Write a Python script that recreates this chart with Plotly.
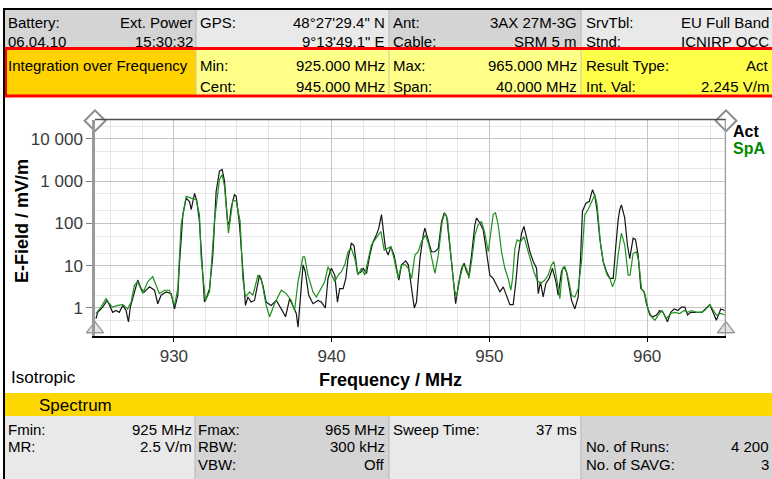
import plotly.graph_objects as go

W, H = 772, 479

# ---------------- data ----------------
act_freq = [925.06, 925.17, 925.49, 925.76, 925.91, 926.12, 926.33, 926.54, 926.76, 926.97,
            927.12, 927.24, 927.71, 927.92, 928.13, 928.45, 928.77, 928.98, 929.19, 929.51,
            929.83, 930.04, 930.25, 930.35, 930.57, 930.78, 930.99, 931.10, 931.31, 931.45,
            931.62, 931.73, 931.94, 932.04, 932.26, 932.47, 932.68, 932.89, 933.06, 933.21,
            933.42, 933.53, 933.63, 933.84, 933.95, 934.16, 934.37, 934.54, 934.69, 934.90,
            935.11, 935.43, 935.64, 935.85, 936.17, 936.49, 936.81, 937.08, 937.34, 937.55,
            937.76, 937.87, 938.05, 938.19, 938.33, 938.55, 938.82, 939.14, 939.35, 939.60,
            939.77, 939.98, 940.20, 940.37, 940.51, 940.73, 940.90, 941.04, 941.25, 941.42,
            941.64, 941.85, 942.00, 942.21, 942.42, 942.63, 942.84, 942.99, 943.16, 943.27,
            943.41, 943.58, 943.75, 943.96, 944.11, 944.26, 944.43, 944.70, 944.86, 945.07,
            945.24, 945.38, 945.60, 945.81, 945.91, 946.12, 946.33, 946.55, 946.76, 946.97,
            947.14, 947.29, 947.50, 947.71, 947.86, 948.03, 948.24, 948.40, 948.55, 948.70,
            948.87, 949.08, 949.19, 949.40, 949.61, 949.82, 950.03, 950.24, 950.45, 950.67,
            950.88, 951.09, 951.30, 951.51, 951.68, 951.83, 952.04, 952.19, 952.36, 952.57,
            952.78, 952.99, 953.10, 953.24, 953.41, 953.58, 953.79, 954.00, 954.22, 954.36,
            954.57, 954.72, 954.89, 955.06, 955.21, 955.42, 955.63, 955.78, 955.90, 956.12,
            956.33, 956.54, 956.69, 956.83, 957.00, 957.21, 957.43, 957.64, 957.85, 958.00,
            958.16, 958.27, 958.37, 958.58, 958.75, 958.90, 959.11, 959.26, 959.43, 959.60,
            959.81, 959.96, 960.17, 960.38, 960.59, 960.80, 961.01, 961.29, 961.50, 961.71,
            961.96, 962.17, 962.39, 962.56, 962.77, 963.02, 963.27, 963.48, 963.70, 963.97,
            964.18, 964.39, 964.67, 964.92]
act_mvm = [0.56, 0.79, 1.05, 1.51, 1.2, 0.79, 0.87, 0.79, 1.15, 0.87,
           0.47, 1.05, 4.57, 2.88, 2.4, 3.16, 2.63, 1.26, 2.0, 2.4,
           2.19, 0.95, 2.0, 10.5, 162, 398, 331, 214, 513, 350,
           112, 20, 1.38, 1.66, 2.88, 17.8, 575, 1738, 1905, 1000,
           93, 112, 234, 479, 437, 93, 6.0, 1.15, 1.82, 1.38,
           1.51, 6.0, 3.47, 1.38, 1.15, 1.51, 0.95, 0.62, 1.66, 1.15,
           0.74, 0.35, 2.5, 10.5, 7.2, 2.0, 1.26, 1.51, 1.38, 1.0,
           5.0, 8.7, 6.0, 1.38, 2.88, 2.88, 5.0, 14.8, 33.9, 30,
           6.6, 7.0, 8.7, 6.6, 17.8, 37.2, 53.7, 77.6, 162, 64.6,
           25.7, 17.8, 28.2, 17.8, 8.7, 4.57, 10.5, 13, 10.5, 2.88,
           1.0, 1.38, 14.8, 53.7, 77.6, 40.7, 21.4, 21.4, 25.7, 112,
           178, 148, 30.9, 5.0, 1.26, 3.47, 8.7, 11.5, 7.2, 6.0,
           17.8, 93, 135, 102, 70.8, 17.8, 6.0, 5.0, 3.47, 2.4,
           3.16, 2.0, 1.2, 1.2, 4.17, 17.8, 58.9, 85.1, 44.7, 21.4,
           12.6, 8.7, 2.19, 4.17, 1.82, 3.8, 5.0, 8.7, 4.17, 2.0,
           7.2, 9.5, 7.2, 3.47, 1.51, 0.95, 1.82, 14.8, 195, 302,
           331, 631, 437, 195, 44.7, 12.6, 7.2, 5.0, 5.0, 25,
           120, 214, 275, 135, 30.9, 14.8, 44.7, 42, 17.8, 2.88,
           2.4, 1.26, 0.68, 0.62, 0.68, 0.87, 0.79, 0.47, 0.79, 0.95,
           0.87, 1.05, 1.05, 0.68, 0.79, 0.79, 0.79, 0.79, 0.95, 1.2,
           0.79, 0.51, 0.95, 0.87]

spa_freq = [925.06, 925.38, 925.70, 925.91, 926.12, 926.44, 926.76, 927.07, 927.29, 927.50,
            927.71, 928.03, 928.34, 928.66, 928.87, 929.08, 929.40, 929.72, 930.04, 930.25,
            930.46, 930.78, 931.10, 931.41, 931.62, 931.73, 932.00, 932.26, 932.57, 932.89,
            933.06, 933.21, 933.46, 933.74, 933.95, 934.20, 934.37, 934.54, 934.80, 935.01,
            935.33, 935.54, 935.85, 936.07, 936.38, 936.81, 937.12, 937.44, 937.65, 937.87,
            938.18, 938.29, 938.50, 938.82, 939.03, 939.35, 939.56, 939.77, 940.03, 940.20,
            940.41, 940.62, 940.83, 941.04, 941.25, 941.47, 941.68, 941.89, 942.10, 942.31,
            942.52, 942.74, 942.95, 943.12, 943.33, 943.54, 943.75, 943.96, 944.22, 944.43,
            944.68, 944.86, 945.07, 945.28, 945.49, 945.70, 945.95, 946.17, 946.38, 946.55,
            946.76, 947.01, 947.18, 947.35, 947.56, 947.77, 947.92, 948.13, 948.34, 948.55,
            948.70, 948.87, 949.08, 949.29, 949.50, 949.71, 949.93, 950.09, 950.24, 950.39,
            950.56, 950.77, 950.98, 951.19, 951.36, 951.47, 951.62, 951.76, 951.98, 952.19,
            952.40, 952.61, 952.82, 953.03, 953.24, 953.52, 953.73, 953.94, 954.09, 954.26,
            954.47, 954.64, 954.79, 955.00, 955.21, 955.42, 955.63, 955.84, 956.05, 956.26,
            956.48, 956.69, 956.83, 957.05, 957.26, 957.47, 957.64, 957.81, 958.00, 958.16,
            958.37, 958.58, 958.80, 958.92, 959.11, 959.32, 959.47, 959.64, 959.85, 960.06,
            960.27, 960.49, 960.70, 960.95, 961.22, 961.50, 961.75, 962.07, 962.34, 962.56,
            962.81, 963.13, 963.40, 963.65, 963.97, 964.18, 964.39, 964.67, 964.92]
spa_mvm = [0.74, 1.05, 1.66, 1.26, 1.05, 1.15, 1.2, 0.95, 1.38, 3.47,
           4.17, 2.19, 4.17, 5.5, 3.47, 2.19, 2.63, 2.63, 1.15, 2.88,
           93, 437, 398, 363, 162, 14.8, 1.51, 2.4, 112, 1096,
           1445, 759, 58.9, 363, 331, 112, 5.0, 1.82, 2.4, 2.0,
           6.0, 5.0, 1.15, 0.62, 1.26, 2.63, 2.19, 1.51, 0.87, 4.17,
           16.2, 16.2, 6.0, 2.4, 1.82, 2.88, 4.17, 9.5, 6.0, 4.17,
           6.0, 7.2, 10.5, 21.4, 25.7, 14.8, 6.0, 8.7, 6.0, 12.6,
           30.9, 40.7, 53.7, 64.6, 23.4, 25.7, 28.2, 14.8, 5.0, 10.5,
           10.5, 8.7, 5.0, 17.8, 21.4, 37.2, 53.7, 30.9, 12.6, 6.6,
           17.8, 112, 178, 123, 17.8, 2.88, 1.82, 5.0, 10.5, 8.7,
           5.0, 12.6, 53.7, 93, 112, 58.9, 21.4, 64.6, 162, 178,
           93, 21.4, 8.7, 5.0, 2.63, 5.0, 25.7, 40.7, 37.2, 49,
           25.7, 12.6, 7.2, 4.57, 3.8, 4.57, 6.0, 10.5, 12.6, 5.0,
           1.66, 8.7, 9.5, 5.0, 2.0, 1.82, 2.88, 12.6, 162, 214,
           331, 479, 275, 30.9, 10.5, 6.0, 5.0, 3.16, 5.0, 17.8,
           58.9, 30.9, 6.0, 6.0, 19.5, 21.4, 12.6, 2.88, 2.19, 0.95,
           0.62, 0.51, 0.68, 0.87, 0.56, 0.74, 0.79, 0.74, 0.87, 0.79,
           0.87, 0.79, 0.79, 0.87, 1.2, 0.87, 0.68, 0.74, 0.68]

f_min, f_max = 925, 965
x_ticks = [930, 940, 950, 960]
y_ticks = [1, 10, 100, 1000, 10000]
y_tick_text = ["1", "10", "100", "1 000", "10 000"]
y_minor = [0.2, 0.5, 2, 5, 20, 50, 200, 500, 2000, 5000, 20000]
y_log_range = [-0.663, 4.46]

header_row1 = [("Battery:", "Ext. Power"), ("GPS:", "48°27'29.4\" N"),
               ("Ant:", "3AX 27M-3G"), ("SrvTbl:", "EU Full Band")]
header_row2 = [("06.04.10", "15:30:32"), ("", "9°13'49.1\" E"),
               ("Cable:", "SRM 5 m"), ("Stnd:", "ICNIRP OCC")]
box_row1 = [("Integration over Frequency", ""), ("Min:", "925.000 MHz"),
            ("Max:", "965.000 MHz"), ("Result Type:", "Act")]
box_row2 = [("", ""), ("Cent:", "945.000 MHz"),
            ("Span:", "40.000 MHz"), ("Int. Val:", "2.245 V/m")]
bottom_rows = [
    [("Fmin:", "925 MHz"), ("Fmax:", "965 MHz"), ("Sweep Time:", "37 ms"), ("", "")],
    [("MR:", "2.5 V/m"), ("RBW:", "300 kHz"), ("", ""), ("No. of Runs:", "4 200")],
    [("", ""), ("VBW:", "Off"), ("", ""), ("No. of SAVG:", "3")],
]

FONT = "Liberation Sans, Arial, sans-serif"


def px(x):
    return x / W


def py(y):
    return 1 - y / H


shapes = []
annotations = []


def rect(x0, y0, x1, y1, fill, line=None, lw=0, layer="below"):
    shapes.append(dict(type="rect", xref="paper", yref="paper",
                       x0=px(x0), x1=px(x1), y0=py(y1), y1=py(y0),
                       fillcolor=fill, layer=layer,
                       line=dict(color=line or fill, width=lw)))


def hline(x0, x1, y, color, w):
    shapes.append(dict(type="line", xref="paper", yref="paper",
                       x0=px(x0), x1=px(x1), y0=py(y), y1=py(y),
                       line=dict(color=color, width=w), layer="above"))


def vline(x, y0, y1, color, w):
    shapes.append(dict(type="line", xref="paper", yref="paper",
                       x0=px(x), x1=px(x), y0=py(y0), y1=py(y1),
                       line=dict(color=color, width=w), layer="above"))


def txt(x, y, s, anchor="left", size=15, color="black", bold=False):
    if not s:
        return
    annotations.append(dict(xref="paper", yref="paper", x=px(x), y=py(y),
                            text=("<b>%s</b>" % s) if bold else s,
                            showarrow=False, xanchor=anchor, yanchor="middle",
                            font=dict(family=FONT, size=size, color=color),
                            borderpad=0))


cols_top = [(5, 196), (196, 389), (389, 581), (581, 772)]
left_x = [7, 199, 392, 585]
right_x = [194, 386, 578, 770]

# header cells
top_fills = ["#d4d4d4", "#e9e9e9", "#d4d4d4", "#e9e9e9"]
for (a, b), c in zip(cols_top, top_fills):
    rect(a, 10, b, 49, c)
for (a, b) in cols_top[1:]:
    vline(a, 10, 49, "#b4b4b4", 1)
for i in range(4):
    l1, r1 = header_row1[i]
    l2, r2 = header_row2[i]
    txt(left_x[i], 23, l1)
    txt(right_x[i], 23, r1, anchor="right")
    txt(left_x[i], 42, l2)
    txt(right_x[i], 42, r2, anchor="right")

# highlighted integration box
box_fills = ["#ffd200", "#ffff88", "#ffff88", "#ffff4a"]
for (a, b), c in zip(cols_top, box_fills):
    rect(a, 49, b, 96, c)
for (a, b) in cols_top[1:]:
    vline(a, 50, 95, "#c8c8a0", 1)
for i in range(4):
    l1, r1 = box_row1[i]
    l2, r2 = box_row2[i]
    txt(left_x[i], 65, l1)
    txt(right_x[i], 65, r1, anchor="right")
    txt(left_x[i], 86, l2)
    txt(right_x[i], 86, r2, anchor="right")
shapes.append(dict(type="rect", xref="paper", yref="paper",
                   x0=px(5.5), x1=px(780), y0=py(96), y1=py(48.5),
                   line=dict(color="#ff0000", width=3), fillcolor="rgba(0,0,0,0)",
                   layer="above"))

# window frame
hline(3, 772, 9, "black", 2)
vline(4, 9, 479, "black", 2)

# spectrum bar
rect(5, 393, 772, 416, "#ffd700")
txt(38, 405, "Spectrum", size=17)

# bottom table
cols_bot = [(5, 195), (195, 389), (389, 581), (581, 772)]
bot_left = [7, 197, 392, 585]
bot_right = [193, 386, 578, 770]
bot_fills = ["#e9e9e9", "#d4d4d4", "#e9e9e9", "#d4d4d4"]
for (a, b), c in zip(cols_bot, bot_fills):
    rect(a, 416, b, 479, c)
for (a, b) in cols_bot[1:]:
    vline(a, 416, 479, "#b4b4b4", 1)
row_y = [429, 446, 464]
for r, row in enumerate(bottom_rows):
    for i, (l, v) in enumerate(row):
        txt(bot_left[i], row_y[r], l)
        txt(bot_right[i], row_y[r], v, anchor="right")

# plot annotations
txt(10, 377, "Isotropic", size=17)
txt(390, 380, "Frequency / MHz", anchor="center", size=18, bold=True)
annotations.append(dict(xref="paper", yref="paper", x=px(22), y=py(221),
                        text="<b>E-Field / mV/m</b>", textangle=-90,
                        showarrow=False, xanchor="center", yanchor="middle",
                        font=dict(family=FONT, size=18, color="black")))
txt(732, 131, "Act", size=16, bold=True, color="black")
txt(732, 149, "SpA", size=16, bold=True, color="#008a00")

# plot frame lines
plot_top = py(119.5)
plot_bot = py(336)
shapes.append(dict(type="line", xref="x", yref="paper", x0=f_min, x1=f_max,
                   y0=plot_top, y1=plot_top, line=dict(color="#505050", width=1.5),
                   layer="above"))
shapes.append(dict(type="line", xref="x", yref="paper", x0=f_max, x1=f_max,
                   y0=plot_bot, y1=plot_top, line=dict(color="#9a9a9a", width=2.5),
                   layer="above"))

fig = go.Figure()
fig.add_trace(go.Scatter(x=act_freq, y=act_mvm, mode="lines", name="Act",
                         line=dict(color="#151515", width=1.2)))
fig.add_trace(go.Scatter(x=spa_freq, y=spa_mvm, mode="lines", name="SpA",
                         line=dict(color="#1e901e", width=1.2)))

top_val = 10 ** 4.43
bot_val = 10 ** -0.5
fig.add_trace(go.Scatter(x=[f_min, f_max], y=[top_val, top_val], mode="markers",
                         cliponaxis=False, hoverinfo="skip",
                         marker=dict(symbol="diamond", size=16, color="white",
                                     line=dict(color="#8c8c8c", width=2))))
fig.add_trace(go.Scatter(x=[f_min, f_max], y=[bot_val, bot_val], mode="markers",
                         cliponaxis=False, hoverinfo="skip",
                         marker=dict(symbol="triangle-up", size=15, color="#e4e4e4",
                                     line=dict(color="#9a9a9a", width=1.5))))

fig.update_layout(
    width=W, height=H,
    margin=dict(l=0, r=0, t=0, b=0),
    paper_bgcolor="white", plot_bgcolor="white",
    showlegend=False,
    shapes=shapes, annotations=annotations,
    xaxis=dict(domain=[px(95), px(726)], range=[f_min, f_max],
               tickvals=x_ticks, ticks="outside", ticklen=4, tickcolor="black",
               tickfont=dict(family=FONT, size=17, color="#3a3a3a"),
               showgrid=True, gridcolor="#c4c4c4", gridwidth=1,
               minor=dict(dtick=2, tick0=926, showgrid=True, gridcolor="#e6e6e6",
                          ticks=""),
               showline=True, linecolor="black", linewidth=2, zeroline=False),
    yaxis=dict(domain=[plot_bot, plot_top], type="log", range=y_log_range,
               tickvals=y_ticks, ticktext=y_tick_text, ticks="outside",
               ticklen=6, tickcolor="#808080",
               tickfont=dict(family=FONT, size=17, color="#3a3a3a"),
               showgrid=True, gridcolor="#c4c4c4", gridwidth=1,
               minor=dict(tickvals=y_minor, showgrid=True, gridcolor="#e6e6e6",
                          ticks=""),
               showline=True, linecolor="#9a9a9a", linewidth=2.5, zeroline=False),
)

fig.write_html("out.html",
               config={"displayModeBar": False},
               post_script="document.body.style.margin='0';"
                           "document.body.style.padding='0';"
                           "document.body.style.overflow='hidden';")
